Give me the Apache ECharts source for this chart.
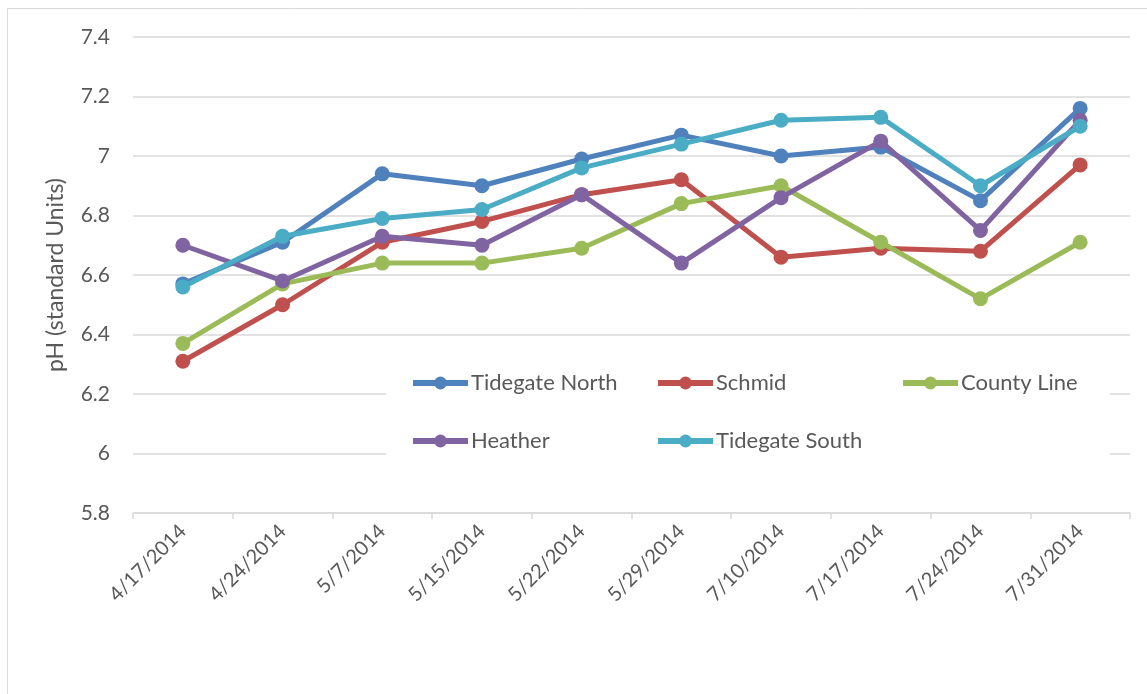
<!DOCTYPE html>
<html>
<head>
<meta charset="utf-8">
<script src="https://cdn.jsdelivr.net/npm/echarts@6/dist/echarts.min.js"></script>
<style>
html,body{margin:0;padding:0;background:#fff;}
#chart{width:1147px;height:694px;}
</style>
</head>
<body>
<div id="chart"></div>
<script>
const categories = ['4/17/2014','4/24/2014','5/7/2014','5/15/2014','5/22/2014','5/29/2014','7/10/2014','7/17/2014','7/24/2014','7/31/2014'];
const tidegateNorth = [6.57, 6.71, 6.94, 6.90, 6.99, 7.07, 7.00, 7.03, 6.85, 7.16];
const schmid        = [6.31, 6.50, 6.71, 6.78, 6.87, 6.92, 6.66, 6.69, 6.68, 6.97];
const countyLine    = [6.37, 6.57, 6.64, 6.64, 6.69, 6.84, 6.90, 6.71, 6.52, 6.71];
const heather       = [6.70, 6.58, 6.73, 6.70, 6.87, 6.64, 6.86, 7.05, 6.75, 7.12];
const tidegateSouth = [6.56, 6.73, 6.79, 6.82, 6.96, 7.04, 7.12, 7.13, 6.90, 7.10];
const seriesNames = ['Tidegate North','Schmid','County Line','Heather','Tidegate South'];
const seriesData = [tidegateNorth, schmid, countyLine, heather, tidegateSouth];
const colors = ['#4f81bd','#c0504d','#9bbb59','#8064a2','#4bacc6'];
const yAxisName = 'pH (standard Units)';

const FONT = 'Lato, "Open Sans", sans-serif';
const TEXT = '#595959';
const legendPos = [[410,372],[655,372],[900,372],[410,430],[655,430]];

const chart = echarts.init(document.getElementById('chart'));
chart.setOption({
  animation: false,
  backgroundColor: '#fff',
  color: colors,
  textStyle: {fontFamily: FONT},
  graphic: [
    {type:'rect', z: 0, silent:true, shape:{x:7.5,y:8.5,width:1150,height:700}, style:{fill:'none',stroke:'#d9d9d9',lineWidth:1}},
    {type:'rect', z: 1, silent:true, shape:{x:386,y:362,width:724,height:108}, style:{fill:'#ffffff'}}
  ],
  grid: {left:133, right:17, top:37, bottom:181, containLabel:false},
  xAxis: {
    type:'category',
    data: categories,
    boundaryGap: true,
    axisLine: {lineStyle:{color:'#d9d9d9', width:1.5}},
    axisTick: {show:true, length:6, lineStyle:{color:'#d9d9d9', width:1.5}},
    axisLabel: {rotate:45, fontSize:20, color:TEXT, margin:15, fontFamily:FONT}
  },
  yAxis: {
    type:'value',
    min:5.8, max:7.4, interval:0.2,
    name: yAxisName,
    nameLocation:'middle',
    nameGap:66,
    nameTextStyle:{fontSize:23, color:TEXT, fontFamily:FONT},
    axisLine:{show:false},
    axisTick:{show:false},
    axisLabel:{fontSize:21, color:TEXT, margin:23, fontFamily:FONT,
      formatter: v => String(Math.round(v*10)/10)},
    splitLine:{lineStyle:{color:'#d9d9d9', width:1.5}}
  },
  legend: seriesNames.map((n,i) => ({
    data:[n], left:legendPos[i][0], top:legendPos[i][1], padding:0,
    itemWidth:55, itemHeight:16, itemGap:0,
    lineStyle:{width:6},
    textStyle:{fontSize:22, color:TEXT, fontFamily:FONT, padding:[0,0,0,-2]}, z:5
  })),
  series: seriesNames.map((n,i) => ({
    name:n, type:'line', data:seriesData[i],
    symbol:'circle', symbolSize:15,
    lineStyle:{width:5, color:colors[i]},
    itemStyle:{color:colors[i]},
    z: 2 + i*0.1
  }))
});
</script>
</body>
</html>
